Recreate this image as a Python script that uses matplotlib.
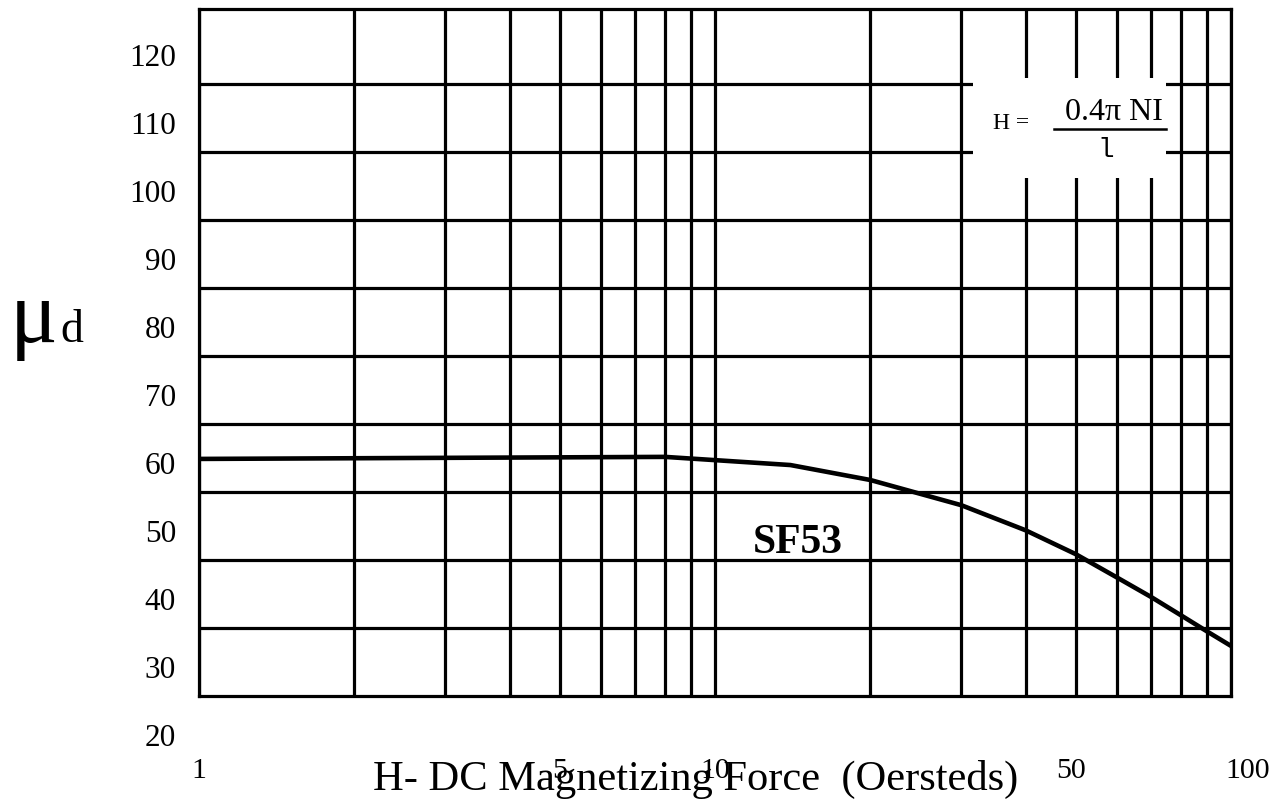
import matplotlib
matplotlib.use('Agg')
import matplotlib.pyplot as plt
import matplotlib.transforms as mtransforms
from matplotlib.patches import Rectangle
from matplotlib.lines import Line2D
from matplotlib.ticker import NullFormatter

# ---- data ----
H = [1, 8, 14, 20, 30, 40, 50, 60, 70, 80, 90, 100]
mu = [60.6, 60.9, 59.7, 57.5, 53.8, 50.1, 46.6, 43.2, 40.3, 37.6, 35.2, 33.1]
series_name = 'SF53'
x_tick_values = [1, 5, 10, 50, 100]
x_tick_labels = ['1', '5', '10', '50', '100']
x_grid_minor = [2, 3, 4, 6, 7, 8, 9, 20, 30, 40, 60, 70, 80, 90]
y_label_values = [20, 30, 40, 50, 60, 70, 80, 90, 100, 110, 120]
x_title = 'H- DC Magnetizing Force  (Oersteds)'

SERIF = ['Liberation Serif', 'DejaVu Serif']
plt.rcParams['font.family'] = SERIF

W, HP = 1277, 800
fig = plt.figure(figsize=(W / 100, HP / 100), dpi=100)
L, R, T, B = 199, 1231, 9, 696
ax = fig.add_axes([L / W, 1 - B / HP, (R - L) / W, (B - T) / HP])

ax.set_xscale('log')
ax.set_xlim(1, 100)
ppu = 6.8  # pixels per unit on y
y0 = 20 + (735 - B) / ppu
y1 = 20 + (735 - T) / ppu
ax.set_ylim(y0, y1)

LW = 2.3
# x grid via ticks
ax.set_xticks(x_tick_values, labels=x_tick_labels)
ax.set_xticks(x_grid_minor, minor=True)
ax.xaxis.set_minor_formatter(NullFormatter())
ax.set_yticks([y0 + 10 * k for k in range(1, 10)])
ax.set_yticklabels([])
ax.tick_params(axis='both', which='both', length=0)
ax.tick_params(axis='x', which='major', pad=45, labelsize=21.5)
ax.grid(True, which='both', axis='both', color='black', linewidth=LW)
for s in ax.spines.values():
    s.set_linewidth(LW)
    s.set_color('black')

# shift some tick labels slightly like the reference
offsets = {'100': 17, '50': -5}
for lab in ax.get_xticklabels():
    dx = offsets.get(lab.get_text(), 0)
    if dx:
        lab.set_transform(lab.get_transform() +
                          mtransforms.ScaledTranslation(dx / 100, 0, fig.dpi_scale_trans))

# y labels (offset from grid lines as in the reference)
ytr = ax.get_yaxis_transform()
for v in y_label_values:
    ax.text(-(L - 176) / (R - L), v - 11 / ppu, str(v), transform=ytr,
            ha='right', va='baseline', fontsize=22.5, clip_on=False)

# curve
ax.plot(H, mu, color='black', linewidth=3.3, solid_capstyle='butt', zorder=3)

# series label
ax.text(10 ** ((798 - L) / 516), 20 + (735 - 553) / ppu, series_name,
        fontsize=30, fontweight='bold', ha='center', va='baseline', zorder=4)

# white formula box
bx0 = 10 ** ((973 - L) / 516)
bx1 = 10 ** ((1166 - L) / 516)
by0 = 20 + (735 - 178) / ppu
by1 = 20 + (735 - 78) / ppu
ax.add_patch(Rectangle((bx0, by0), bx1 - bx0, by1 - by0, facecolor='white',
                       edgecolor='none', zorder=2.5))

def fx(px):
    return px / W

def fy(py):
    return 1 - py / HP

fig.text(fx(993), fy(129), 'H =', fontsize=17, ha='left', va='baseline')
fig.text(fx(1065), fy(120), '0.4\u03c0 NI', fontsize=23, ha='left', va='baseline')
fig.add_artist(Line2D([fx(1054), fx(1166)], [fy(129), fy(129)], color='black', lw=1.8))
fig.text(fx(1106), fy(157), 'l', fontsize=20, ha='center', va='baseline',
         family=['Liberation Mono', 'DejaVu Sans Mono'])

# axis titles
fig.text(fx(10), fy(342), '\u03bc', fontsize=64, ha='left', va='baseline')
fig.text(fx(60), fy(342), 'd', fontsize=33, ha='left', va='baseline')
fig.text(fx(373), fy(790), x_title, fontsize=30.6, ha='left', va='baseline')

fig.savefig('out.png', dpi=100)
